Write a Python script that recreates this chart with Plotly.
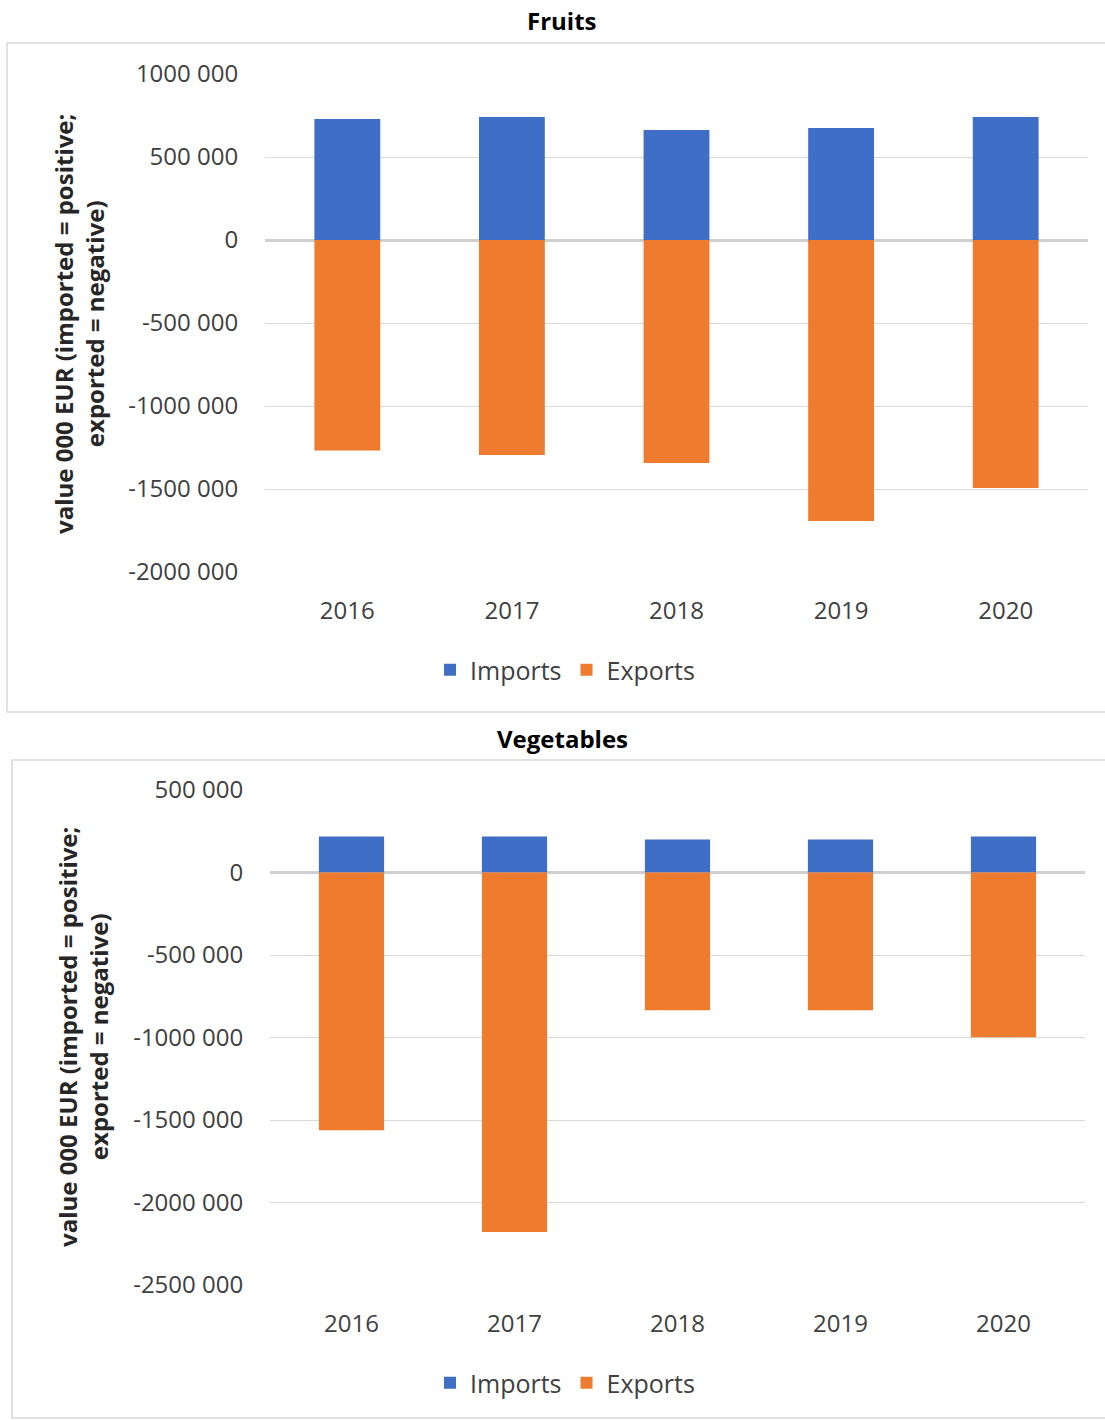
import plotly.graph_objects as go

W, H = 1105, 1420

years = ["2016", "2017", "2018", "2019", "2020"]

fruits_imports = [729000, 741000, 663000, 675000, 741000]
fruits_exports = [-1268000, -1295000, -1343000, -1693000, -1494000]

veg_imports = [218000, 218000, 200000, 200000, 218000]
veg_exports = [-1562000, -2179000, -835000, -835000, -999000]

fruits_tickvals = [1000000, 500000, 0, -500000, -1000000, -1500000, -2000000]
fruits_ticktext = ["1000 000", "500 000", "0", "-500 000", "-1000 000", "-1500 000", "-2000 000"]
veg_tickvals = [500000, 0, -500000, -1000000, -1500000, -2000000, -2500000]
veg_ticktext = ["500 000", "0", "-500 000", "-1000 000", "-1500 000", "-2000 000", "-2500 000"]

titles = ["Fruits", "Vegetables"]
ytitle = "value 000 EUR (imported = positive;<br>exported = negative)"

BLUE = "#3F6EC6"
ORANGE = "#EE7B2E"
FONT = "Open Sans"
TICKCOL = "#404040"


def px(x):
    return x / W


def py(y):
    return 1 - y / H


fig = go.Figure()

fig.add_trace(go.Bar(x=years, y=fruits_imports, name="Imports", marker_color=BLUE,
                     xaxis="x", yaxis="y", legend="legend"))
fig.add_trace(go.Bar(x=years, y=fruits_exports, name="Exports", marker_color=ORANGE,
                     xaxis="x", yaxis="y", legend="legend"))
fig.add_trace(go.Bar(x=years, y=veg_imports, name="Imports", marker_color=BLUE,
                     xaxis="x2", yaxis="y2", legend="legend2"))
fig.add_trace(go.Bar(x=years, y=veg_exports, name="Exports", marker_color=ORANGE,
                     xaxis="x2", yaxis="y2", legend="legend2"))

fig.update_traces(marker_line_width=0)

xcommon = dict(showgrid=False, zeroline=False, showline=False,
               ticks="outside", ticklen=17, tickcolor="rgba(0,0,0,0)",
               tickfont=dict(family=FONT, size=24, color=TICKCOL), fixedrange=True)
ycommon = dict(showgrid=True, gridcolor="#D9D9D9", gridwidth=1.3,
               zeroline=True, zerolinecolor="#D0D0D0", zerolinewidth=2.5,
               showline=False, ticks="outside", ticklen=21, tickcolor="rgba(0,0,0,0)",
               tickfont=dict(family=FONT, size=24, color=TICKCOL), fixedrange=True)

fig.update_layout(
    width=W, height=H,
    margin=dict(l=0, r=0, t=0, b=0, autoexpand=False),
    paper_bgcolor="white", plot_bgcolor="white",
    barmode="relative", bargap=0.6,
    font=dict(family=FONT),
    xaxis=dict(domain=[px(265), px(1088)], anchor="y", **xcommon),
    yaxis=dict(domain=[py(572), py(74)], anchor="x", range=[-2000000, 1000000],
               tickvals=fruits_tickvals, ticktext=fruits_ticktext, **ycommon),
    xaxis2=dict(domain=[px(270), px(1085)], anchor="y2", **xcommon),
    yaxis2=dict(domain=[py(1285), py(790)], anchor="x2", range=[-2500000, 500000],
                tickvals=veg_tickvals, ticktext=veg_ticktext, **ycommon),
    legend=dict(orientation="h", x=px(565), y=py(670), xanchor="center", yanchor="middle",
                font=dict(family=FONT, size=25, color="#404040"), itemwidth=30,
                traceorder="normal"),
    legend2=dict(orientation="h", x=px(565), y=py(1383), xanchor="center", yanchor="middle",
                 font=dict(family=FONT, size=25, color="#404040"), itemwidth=30,
                 traceorder="normal"),
    shapes=[
        dict(type="rect", xref="paper", yref="paper", x0=px(7), x1=px(1110), y0=py(712), y1=py(43),
             line=dict(color="#D9D9D9", width=1.5), fillcolor="rgba(0,0,0,0)", layer="below"),
        dict(type="rect", xref="paper", yref="paper", x0=px(12), x1=px(1110), y0=py(1418), y1=py(760),
             line=dict(color="#D9D9D9", width=1.5), fillcolor="rgba(0,0,0,0)", layer="below"),
    ],
    annotations=[
        dict(text="<b>" + titles[0] + "</b>", xref="paper", yref="paper", x=px(562), y=py(21),
             showarrow=False, xanchor="center", yanchor="middle",
             font=dict(family=FONT, size=24, color="black")),
        dict(text="<b>" + titles[1] + "</b>", xref="paper", yref="paper", x=px(562), y=py(738),
             showarrow=False, xanchor="center", yanchor="middle",
             font=dict(family=FONT, size=24, color="black")),
        dict(text="<b>" + ytitle + "</b>", xref="paper", yref="paper", x=px(79), y=py(324),
             showarrow=False, xanchor="center", yanchor="middle", textangle=-90,
             font=dict(family=FONT, size=24, color="#262626")),
        dict(text="<b>" + ytitle + "</b>", xref="paper", yref="paper", x=px(83), y=py(1037),
             showarrow=False, xanchor="center", yanchor="middle", textangle=-90,
             font=dict(family=FONT, size=24, color="#262626")),
    ],
)

fig.write_html("out.html", config={"displayModeBar": False},
               post_script="document.body.style.margin='0';")
